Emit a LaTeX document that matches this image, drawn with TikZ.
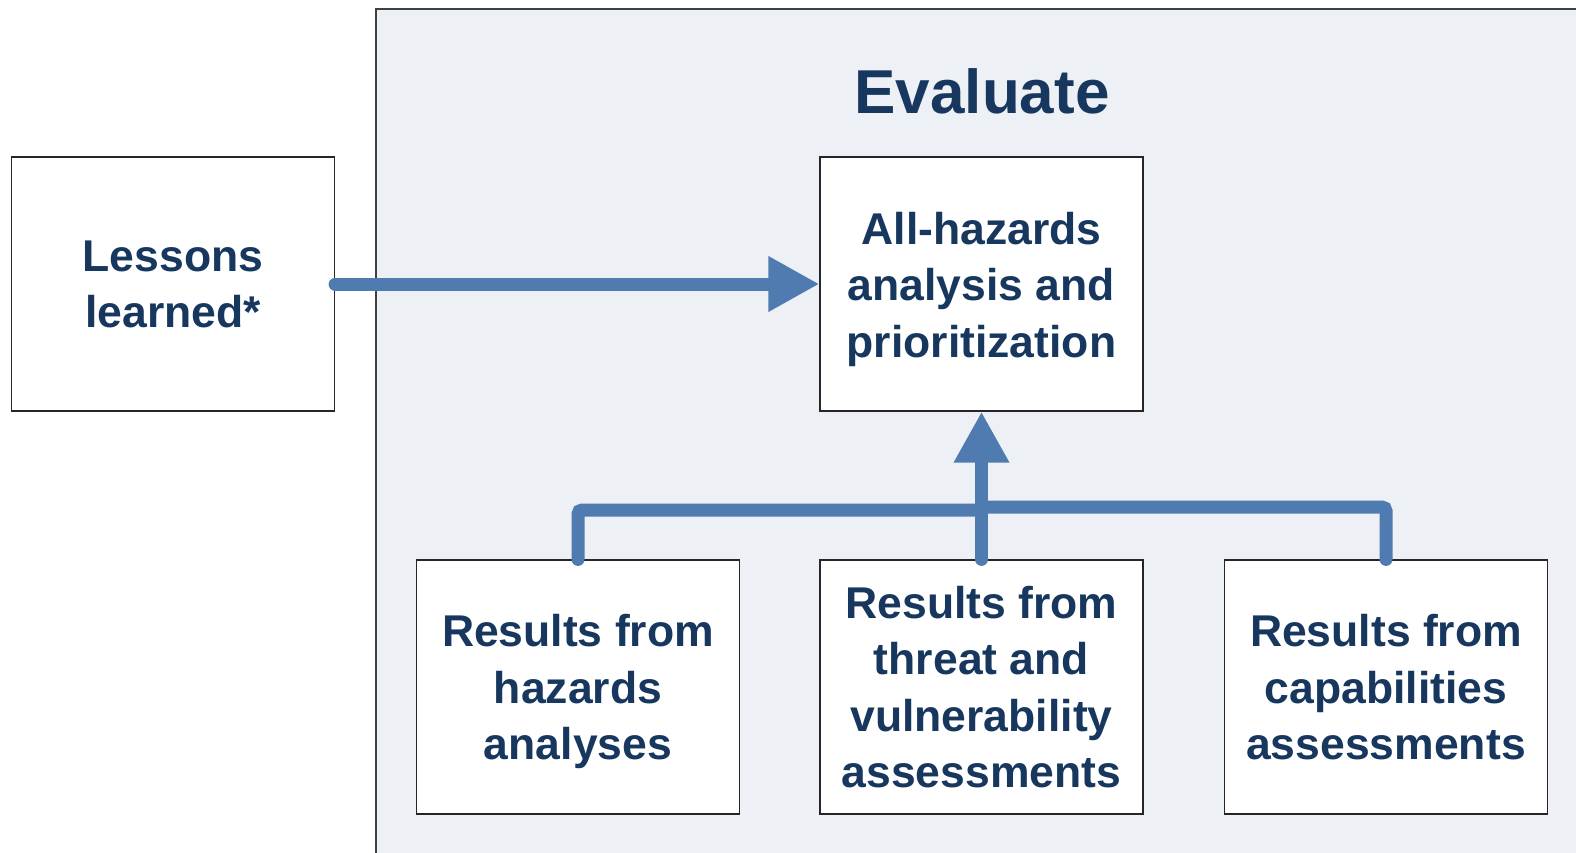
\documentclass[tikz,border=0pt]{standalone}
\usepackage{fontspec}
\setmainfont{Liberation Sans}
\usetikzlibrary{arrows.meta}
\definecolor{navy}{HTML}{17375E}
\definecolor{flowblue}{HTML}{4F7BB0}
\definecolor{panelfill}{HTML}{EDF0F5}
\begin{document}
\begin{tikzpicture}[x=1pt,y=-1pt,
  box/.style={draw=black!85, line width=1.2pt, fill=white, minimum width=323pt,
    minimum height=254pt, inner sep=0pt, align=center, text=navy, text depth=0pt,
    font=\fontsize{44.5}{56.5}\selectfont\bfseries},
  flow/.style={draw=flowblue, line width=13pt, line cap=round},
  tip/.style={-{Triangle[length=51pt,width=52pt]}}]
\useasboundingbox (0,0) rectangle (1576,852);

% evaluate panel
\fill[panelfill] (376,9) rectangle (1580,856);
\draw[line width=2pt, color=black!75] (376,856) -- (376,9) -- (1580,9);
\node[text=navy, font=\fontsize{62}{70}\selectfont\bfseries, anchor=base] (evaluate) at (982,113) {Evaluate};

\node[box] (lessons) at (173,284) {Lessons\\learned*};
\node[box] (allhaz) at (981.5,284) {\rule{0pt}{33pt}All-hazards\\analysis and\\prioritization};

\node[box] (reshaz) at (578,687) {Results from\\hazards\\analyses};
\node[box] (resthreat) at (981.5,687) {Results from\\threat and\\vulnerability\\assessments};
\node[box] (rescap) at (1386,687) {Results from\\capabilities\\assessments};

% connectors
\coordinate (joinl) at (981.5,510);
\coordinate (joinr) at (981.5,507);
\draw[flow, tip] (lessons.east) -- (allhaz.west);
\draw[flow, rounded corners=4pt] (reshaz.north) |- (joinl);
\draw[flow, rounded corners=4pt] (rescap.north) |- (joinr);
\draw[flow, tip] (resthreat.north) -- (allhaz.south);
\end{tikzpicture}
\end{document}
